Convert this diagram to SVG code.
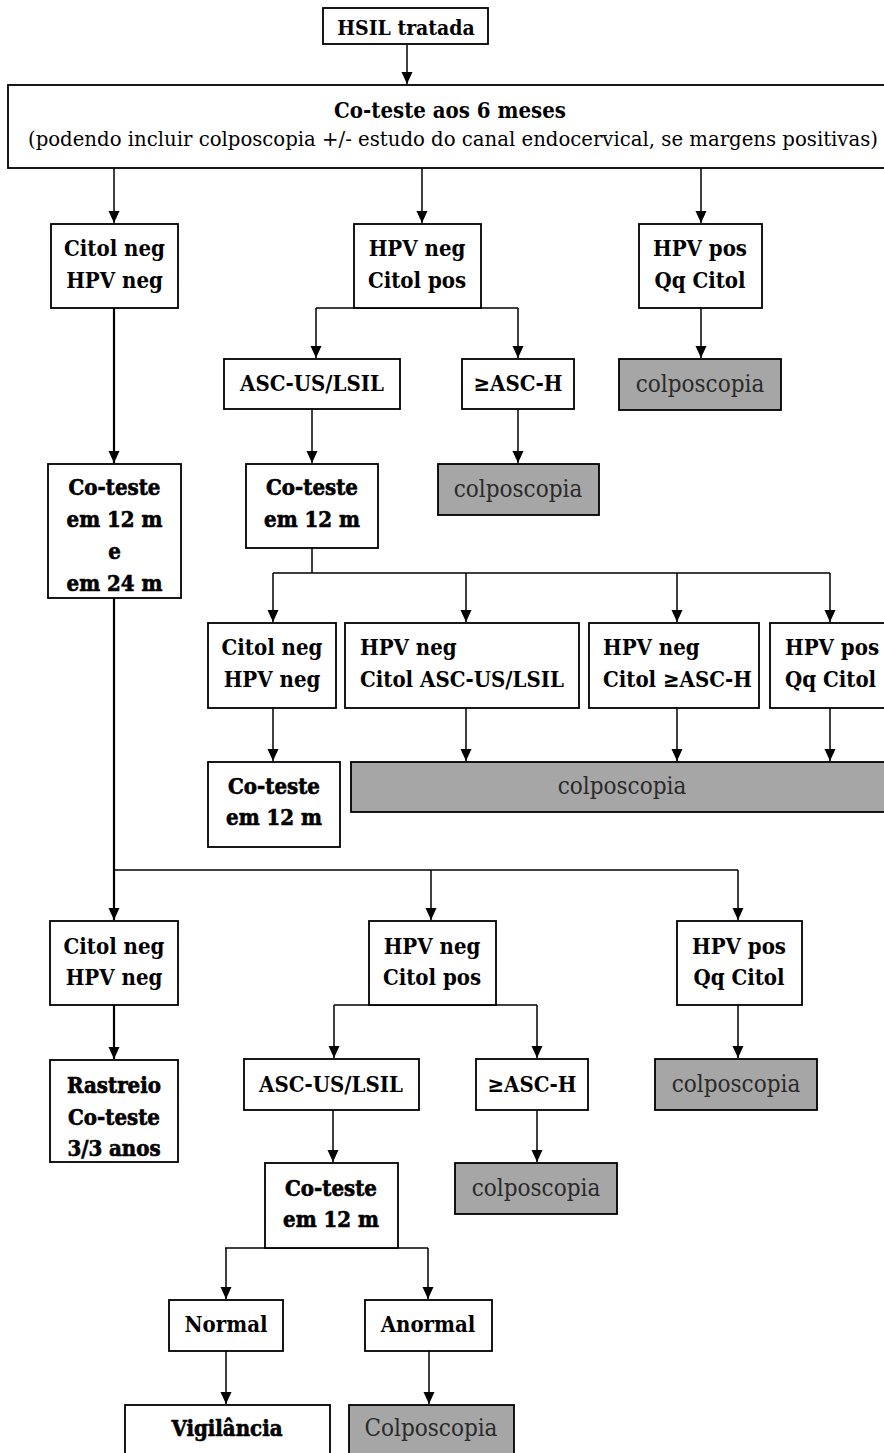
<svg xmlns="http://www.w3.org/2000/svg" width="884" height="1453" viewBox="0 0 884 1453">
<style>
.b{fill:#fff;stroke:#000;stroke-width:1.8}
.g{fill:#a6a6a6;stroke:#000;stroke-width:1.8}
text{font-family:"DejaVu Serif","Liberation Serif",serif;font-stretch:condensed;fill:#000;dominant-baseline:central}
.t{font-size:22px;font-weight:bold;text-anchor:middle}
.tl{font-size:22px;font-weight:bold;text-anchor:start}
.h{font-size:22px;font-weight:bold;text-anchor:middle;stroke:#000;stroke-width:0.6}
.c{font-size:24px;text-anchor:middle;fill:#2a2a2a}
.cn{fill:none;stroke:#000;stroke-width:1.5}
.ck{fill:none;stroke:#000;stroke-width:2.2}
</style>
<defs>
<marker id="ah" markerUnits="userSpaceOnUse" markerWidth="12" markerHeight="12" refX="12" refY="5.5" orient="auto">
<path d="M0,0 L12,5.5 L0,11 z" fill="#000"/>
</marker>
</defs>
<g id="connectors">
<path class="cn" d="M407,45 V84" marker-end="url(#ah)"/>
<path class="cn" d="M114,168 V223" marker-end="url(#ah)"/>
<path class="cn" d="M422,168 V223" marker-end="url(#ah)"/>
<path class="cn" d="M701,168 V223" marker-end="url(#ah)"/>
<path class="cn" d="M316,308 H518"/>
<path class="cn" d="M316,308 V358" marker-end="url(#ah)"/>
<path class="cn" d="M518,308 V358" marker-end="url(#ah)"/>
<path class="cn" d="M701,308 V358" marker-end="url(#ah)"/>
<path class="ck" d="M114,308 V463" marker-end="url(#ah)"/>
<path class="cn" d="M312,409 V463" marker-end="url(#ah)"/>
<path class="cn" d="M518,409 V463" marker-end="url(#ah)"/>
<path class="cn" d="M312,548 V573 M273,573 H830"/>
<path class="cn" d="M273,573 V622" marker-end="url(#ah)"/>
<path class="cn" d="M466,573 V622" marker-end="url(#ah)"/>
<path class="cn" d="M677,573 V622" marker-end="url(#ah)"/>
<path class="cn" d="M830,573 V622" marker-end="url(#ah)"/>
<path class="cn" d="M273,708 V761" marker-end="url(#ah)"/>
<path class="cn" d="M466,708 V761" marker-end="url(#ah)"/>
<path class="cn" d="M677,708 V761" marker-end="url(#ah)"/>
<path class="cn" d="M830,708 V761" marker-end="url(#ah)"/>
<path class="ck" d="M114,598 V920" marker-end="url(#ah)"/>
<path class="cn" d="M114,870 H738"/>
<path class="cn" d="M431,870 V920" marker-end="url(#ah)"/>
<path class="cn" d="M738,870 V920" marker-end="url(#ah)"/>
<path class="ck" d="M114,1005 V1059" marker-end="url(#ah)"/>
<path class="cn" d="M334,1005 H537"/>
<path class="cn" d="M334,1005 V1058" marker-end="url(#ah)"/>
<path class="cn" d="M537,1005 V1058" marker-end="url(#ah)"/>
<path class="cn" d="M738,1005 V1058" marker-end="url(#ah)"/>
<path class="cn" d="M333,1110 V1162" marker-end="url(#ah)"/>
<path class="cn" d="M537,1110 V1162" marker-end="url(#ah)"/>
<path class="cn" d="M225,1248 H428"/>
<path class="cn" d="M226,1248 V1299" marker-end="url(#ah)"/>
<path class="cn" d="M428,1248 V1299" marker-end="url(#ah)"/>
<path class="cn" d="M226,1351 V1404" marker-end="url(#ah)"/>
<path class="cn" d="M429,1351 V1404" marker-end="url(#ah)"/>
</g>
<g id="n-hsil"><rect class="b" x="323" y="8" width="165" height="36"/><text class="t" x="406" y="27" style="font-size:21px">HSIL tratada</text></g>
<g id="n-coteste6"><rect class="b" x="8" y="85" width="884" height="83"/>
<text class="t" x="450" y="110" style="font-size:22px">Co-teste aos 6 meses</text>
<text x="453" y="139" style="font-size:20px;text-anchor:middle" textLength="850" lengthAdjust="spacingAndGlyphs">(podendo incluir colposcopia +/- estudo do canal endocervical, se margens positivas)</text></g>
<g id="n-a1"><rect class="b" x="51" y="224" width="127" height="84"/><text class="t" x="114.5" y="248">Citol neg</text><text class="t" x="114.5" y="280">HPV neg</text></g>
<g id="n-a2"><rect class="b" x="354" y="224" width="127" height="84"/><text class="t" x="417" y="248">HPV neg</text><text class="t" x="417" y="280">Citol pos</text></g>
<g id="n-a3"><rect class="b" x="639" y="224" width="123" height="84"/><text class="t" x="700" y="248">HPV pos</text><text class="t" x="700" y="280">Qq Citol</text></g>
<g id="n-a4"><rect class="b" x="224" y="359" width="176" height="50"/><text class="t" x="312" y="383">ASC-US/LSIL</text></g>
<g id="n-a5"><rect class="b" x="462" y="359" width="112" height="50"/><text class="t" x="518" y="383">≥ASC-H</text></g>
<g id="n-a6"><rect class="g" x="619" y="359" width="162" height="51"/><text class="c" x="700" y="384">colposcopia</text></g>
<g id="n-a7"><rect class="b" x="48" y="464" width="133" height="134"/><text class="h" x="114.5" y="487">Co-teste</text><text class="h" x="114.5" y="519">em 12 m</text><text class="h" x="114.5" y="551">e</text><text class="h" x="114.5" y="583">em 24 m</text></g>
<g id="n-a8"><rect class="b" x="246" y="464" width="132" height="84"/><text class="h" x="312" y="487">Co-teste</text><text class="h" x="312" y="519">em 12 m</text></g>
<g id="n-a9"><rect class="g" x="438" y="464" width="161" height="51"/><text class="c" x="518" y="489">colposcopia</text></g>
<g id="n-b1"><rect class="b" x="208" y="623" width="128" height="85"/><text class="t" x="272" y="647">Citol neg</text><text class="t" x="272" y="679">HPV neg</text></g>
<g id="n-b2"><rect class="b" x="345" y="623" width="234" height="85"/><text class="tl" x="360" y="647">HPV neg</text><text class="tl" x="360" y="679">Citol ASC-US/LSIL</text></g>
<g id="n-b3"><rect class="b" x="589" y="623" width="170" height="85"/><text class="tl" x="603" y="647">HPV neg</text><text class="tl" x="603" y="679">Citol ≥ASC-H</text></g>
<g id="n-b4"><rect class="b" x="770" y="623" width="120" height="85"/><text class="tl" x="785" y="647">HPV pos</text><text class="tl" x="785" y="679">Qq Citol</text></g>
<g id="n-b5"><rect class="b" x="208" y="762" width="132" height="85"/><text class="h" x="274" y="786">Co-teste</text><text class="h" x="274" y="817">em 12 m</text></g>
<g id="n-b6"><rect class="g" x="351" y="762" width="540" height="50"/><text class="c" x="622" y="786">colposcopia</text></g>
<g id="n-c1"><rect class="b" x="50" y="921" width="128" height="84"/><text class="t" x="114" y="946">Citol neg</text><text class="t" x="114" y="977">HPV neg</text></g>
<g id="n-c2"><rect class="b" x="369" y="921" width="127" height="84"/><text class="t" x="432" y="946">HPV neg</text><text class="t" x="432" y="977">Citol pos</text></g>
<g id="n-c3"><rect class="b" x="677" y="921" width="125" height="84"/><text class="t" x="739" y="946">HPV pos</text><text class="t" x="739" y="977">Qq Citol</text></g>
<g id="n-c4"><rect class="b" x="50" y="1060" width="128" height="102"/><text class="h" x="114" y="1085">Rastreio</text><text class="h" x="114" y="1117">Co-teste</text><text class="h" x="114" y="1148">3/3 anos</text></g>
<g id="n-c5"><rect class="b" x="244" y="1059" width="175" height="51"/><text class="t" x="331" y="1084">ASC-US/LSIL</text></g>
<g id="n-c6"><rect class="b" x="476" y="1059" width="112" height="51"/><text class="t" x="532" y="1084">≥ASC-H</text></g>
<g id="n-c7"><rect class="g" x="655" y="1059" width="162" height="51"/><text class="c" x="736" y="1084">colposcopia</text></g>
<g id="n-c8"><rect class="b" x="265" y="1163" width="133" height="85"/><text class="h" x="331" y="1188">Co-teste</text><text class="h" x="331" y="1219">em 12 m</text></g>
<g id="n-c9"><rect class="g" x="455" y="1163" width="162" height="51"/><text class="c" x="536" y="1188">colposcopia</text></g>
<g id="n-d1"><rect class="b" x="169" y="1300" width="114" height="51"/><text class="t" x="226" y="1324">Normal</text></g>
<g id="n-d2"><rect class="b" x="365" y="1300" width="127" height="51"/><text class="t" x="428" y="1324">Anormal</text></g>
<g id="n-d3"><rect class="b" x="125" y="1405" width="205" height="60"/><text class="h" x="227" y="1428">Vigilância</text></g>
<g id="n-d4"><rect class="g" x="349" y="1405" width="165" height="60"/><text class="c" x="431" y="1428">Colposcopia</text></g>
</svg>
